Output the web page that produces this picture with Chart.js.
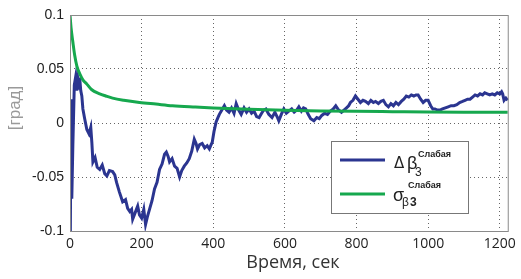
<!DOCTYPE html>
<html>
<head>
<meta charset="utf-8">
<script src="https://cdn.jsdelivr.net/npm/chart.js@4"></script>
<style>
  html, body { margin: 0; padding: 0; background: #fff; }
  #wrap { width: 521px; height: 279px; position: relative; }
</style>
</head>
<body>
<div id="wrap"><canvas id="c"></canvas></div>
<script>
// --- data ---
const xTicks = [0, 200, 400, 600, 800, 1000, 1200];
const yTicks = [0.1, 0.05, 0, -0.05, -0.1];

const tBlue = [0, 1, 3, 5, 8, 12, 16, 19, 22, 25, 27, 30, 33, 36, 41, 47, 53, 58, 61, 64, 70, 76, 83, 90, 97, 103, 110, 119, 125, 130,
  138, 147, 155, 161, 167, 172, 175, 182, 189, 194, 200, 206, 211, 216, 222, 229, 236, 243, 250, 257, 264, 269, 274, 278, 285, 292,
  299, 306, 312, 319, 326, 333, 340, 347, 352, 356, 362, 369, 376, 383, 389, 394, 397, 402, 408, 413, 417, 424, 431, 437, 444, 451,
  458, 464, 471, 478, 486, 493, 500, 507, 514, 521, 528, 535, 541, 547, 555, 564, 572, 578, 583, 590, 597, 604, 611, 619, 626, 633,
  639, 646, 652, 658, 665, 672, 681, 689, 696, 703, 711, 719, 727, 735, 742, 750, 758, 765, 772, 778, 783, 790, 797, 804, 811, 818,
  825, 833, 840, 847, 853, 861, 868, 875, 882, 889, 896, 903, 910, 917, 925, 932, 939, 946, 953, 960, 966, 972, 979, 986, 993, 1000,
  1007, 1013, 1019, 1026, 1033, 1040, 1048, 1056, 1064, 1072, 1080, 1088, 1096, 1103, 1110, 1117, 1124, 1131, 1138, 1145, 1152, 1158,
  1165, 1172, 1179, 1186, 1193, 1200, 1205, 1208, 1212, 1217, 1222];
const deltaBeta = [0.02, -0.1, 0.022, -0.07, -0.02, 0.035, 0.043, 0.03, 0.04, 0.031, 0.042, 0.03, 0.025, 0.013, 0.004, -0.006, -0.01, -0.004, -0.018, -0.036, -0.032, -0.041, -0.043, -0.039, -0.047, -0.049, -0.044, -0.045, -0.048, -0.055,
  -0.064, -0.073, -0.071, -0.079, -0.082, -0.08, -0.089, -0.083, -0.077, -0.085, -0.088, -0.08, -0.094, -0.087, -0.08, -0.072, -0.061, -0.055, -0.043, -0.038, -0.029, -0.027, -0.031, -0.036, -0.033, -0.04,
  -0.042, -0.05, -0.044, -0.04, -0.037, -0.033, -0.026, -0.015, -0.019, -0.024, -0.02, -0.019, -0.023, -0.021, -0.024, -0.02, -0.018, -0.008, 0.001, 0.005, 0.008, 0.012, 0.016, 0.012, 0.01, 0.014,
  0.009, 0.018, 0.012, 0.008, 0.014, 0.01, 0.013, 0.009, 0.011, 0.006, 0.005, 0.009, 0.012, 0.013, 0.008, 0.005, 0.01, 0.006, 0.002, 0.008, 0.013, 0.009, 0.011, 0.013, 0.01, 0.012,
  0.015, 0.011, 0.014, 0.013, 0.008, 0.004, 0.002, 0.005, 0.004, 0.007, 0.009, 0.008, 0.011, 0.013, 0.016, 0.012, 0.01, 0.012, 0.014, 0.016, 0.019, 0.021, 0.025, 0.022, 0.019, 0.021,
  0.02, 0.018, 0.021, 0.019, 0.02, 0.018, 0.02, 0.021, 0.017, 0.015, 0.018, 0.016, 0.019, 0.017, 0.02, 0.022, 0.025, 0.024, 0.026, 0.025, 0.026, 0.026, 0.022, 0.019, 0.021, 0.021,
  0.016, 0.013, 0.013, 0.012, 0.012, 0.013, 0.014, 0.015, 0.016, 0.016, 0.017, 0.019, 0.02, 0.021, 0.022, 0.022, 0.024, 0.026, 0.025, 0.027, 0.026, 0.028,
  0.027, 0.026, 0.027, 0.026, 0.028, 0.027, 0.029, 0.027, 0.021, 0.023, 0.021];

const tSigma = [0, 3, 8, 13, 19, 28, 36, 47, 60, 83, 100, 119, 150, 194, 240, 286, 350, 400, 500, 600, 700, 800, 900, 1000, 1100, 1222];
const sigmaBeta = [0.1, 0.088, 0.075, 0.063, 0.053, 0.045, 0.04, 0.036, 0.031, 0.027, 0.025, 0.023, 0.021, 0.019, 0.0175, 0.016, 0.0148, 0.014, 0.0128, 0.0118, 0.0112, 0.0108, 0.0105, 0.0102, 0.01, 0.0099];

const BLUE = '#2b3590';
const GREEN = '#16a84e';

// frame, axis titles and the legend with super/subscripts
const decor = {
  id: 'decor',
  afterDraw(chart) {
    const { ctx, chartArea: a } = chart;
    ctx.save();
    ctx.strokeStyle = '#8a8a8a';
    ctx.lineWidth = 1;
    ctx.strokeRect(a.left + 0.5, a.top + 0.5, a.right - a.left - 1, a.bottom - a.top);

    // axis titles
    ctx.fillStyle = '#333';
    ctx.font = '18px "Open Sans"';
    ctx.textAlign = 'center';
    ctx.textBaseline = 'middle';
    ctx.fillText('Время, сек', 293, 263);

    ctx.save();
    ctx.translate(15, 108);
    ctx.rotate(-Math.PI / 2);
    ctx.fillStyle = '#9a9a9a';
    ctx.font = '17px "Liberation Sans"';
    ctx.fillText('[град]', 0, 0);
    ctx.restore();

    // legend box
    ctx.fillStyle = '#fff';
    ctx.fillRect(331, 141, 137, 72);
    ctx.strokeStyle = '#777';
    ctx.strokeRect(331.5, 141.5, 137, 72);

    ctx.lineWidth = 3;
    ctx.strokeStyle = BLUE;
    ctx.beginPath(); ctx.moveTo(340, 160); ctx.lineTo(385, 160); ctx.stroke();
    ctx.strokeStyle = GREEN;
    ctx.beginPath(); ctx.moveTo(340, 194); ctx.lineTo(385, 194); ctx.stroke();

    ctx.fillStyle = '#222';
    ctx.textAlign = 'left';
    ctx.textBaseline = 'alphabetic';
    ctx.font = '15px "DejaVu Sans"';
    ctx.fillText('\u0394', 394, 168);
    ctx.font = '18px "Liberation Sans"';
    ctx.fillText('\u03b2', 407, 169);
    ctx.font = '12px "Liberation Sans"';
    ctx.fillText('3', 415, 176);
    ctx.font = 'bold 9px "Liberation Sans Narrow", "Liberation Sans"';
    ctx.fillText('Слабая', 418, 157);

    ctx.font = '18px "Liberation Sans"';
    ctx.fillText('\u03c3', 393, 201);
    ctx.font = '12px "Liberation Sans"';
    ctx.fillText('\u03b2', 402, 206);
    ctx.font = 'bold 12px "Liberation Sans"';
    ctx.fillText('3', 410, 206);
    ctx.font = 'bold 9px "Liberation Sans Narrow", "Liberation Sans"';
    ctx.fillText('Слабая', 408, 188);
    ctx.restore();
  }
};

const gridStyle = { color: '#666', lineWidth: 1, drawTicks: false };

new Chart(document.getElementById('c'), {
  type: 'line',
  data: {
    datasets: [
      {
        data: tSigma.map((t, i) => ({ x: t, y: sigmaBeta[i] })),
        borderColor: GREEN, borderWidth: 3, pointRadius: 0, tension: 0.4, cubicInterpolationMode: 'monotone',
      },
      {
        data: tBlue.map((t, i) => ({ x: t, y: deltaBeta[i] })),
        borderColor: BLUE, borderWidth: 3, pointRadius: 0, tension: 0,
      },
    ],
  },
  options: {
    responsive: true,
    maintainAspectRatio: false,
    animation: false,
    layout: { padding: { left: 0, right: 10, top: 15, bottom: 0 } },
    plugins: { legend: { display: false }, tooltip: { enabled: false } },
    scales: {
      x: {
        type: 'linear', min: 0, max: 1225,
        afterBuildTicks: s => { s.ticks = xTicks.map(v => ({ value: v })); },
        afterFit: s => { s.height = 48; },
        ticks: { color: '#222', font: { family: 'Open Sans', size: 14 }, padding: 5, maxRotation: 0, callback: v => String(v) },
        grid: gridStyle,
        border: { display: false, dash: [1, 3] },
      },
      y: {
        min: -0.1, max: 0.1,
        afterBuildTicks: s => { s.ticks = yTicks.map(v => ({ value: v })); },
        afterFit: s => { s.width = 70; },
        ticks: { color: '#222', font: { family: 'Liberation Sans', size: 14 }, padding: 6, callback: v => String(v) },
        grid: gridStyle,
        border: { display: false, dash: [1, 3] },
      },
    },
  },
  plugins: [decor],
});
</script>
</body>
</html>
